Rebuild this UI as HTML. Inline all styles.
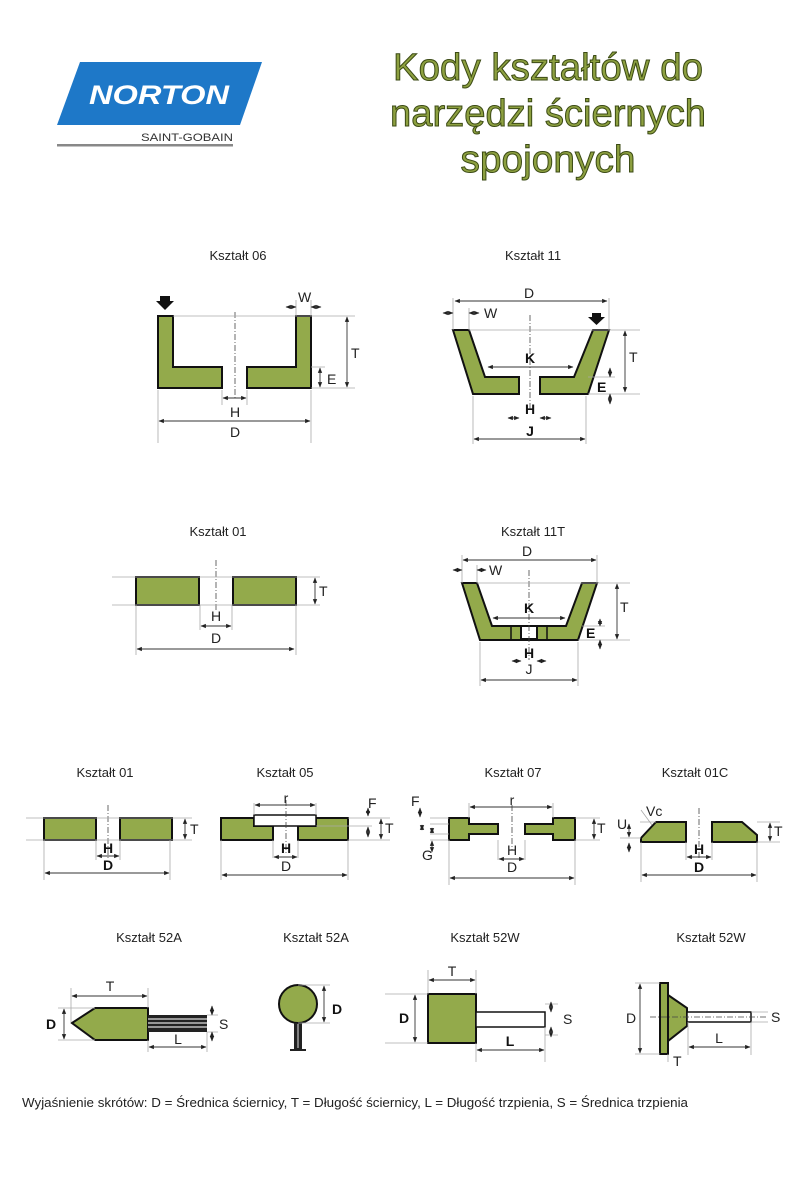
<!DOCTYPE html>
<html><head><meta charset="utf-8"><style>
body{margin:0;background:#fff}
svg{display:block}
text{font-family:"Liberation Sans",sans-serif}
.l{font-size:13px;fill:#222}
.g{fill:#93aa4b;stroke:#111;stroke-width:2}
.ln{stroke:#555;stroke-width:0.8;fill:none}
.ex{stroke:#aaa;stroke-width:0.8;fill:none}
.dm{stroke:#333;stroke-width:0.9;fill:none;marker-start:url(#a);marker-end:url(#a)}
.cl{stroke:#444;stroke-width:0.8;stroke-dasharray:6,2,1,2;fill:none}
.t{font-size:14px;fill:#222}
.tb{font-size:14px;fill:#111;font-weight:bold}
</style></head><body>
<svg width="800" height="1200" viewBox="0 0 800 1200" xmlns="http://www.w3.org/2000/svg">
<defs><marker id="a" viewBox="0 0 10 10" refX="9" refY="5" markerWidth="6" markerHeight="6" orient="auto-start-reverse"><path d="M0,1 L10,5 L0,9 z" fill="#222"/></marker></defs>
<!-- logo -->
<polygon points="80,62 262,62 240,125 57,125" fill="#1e78c8"/>
<text x="159" y="104" font-size="27" font-style="italic" font-weight="bold" fill="#fff" text-anchor="middle" textLength="140" lengthAdjust="spacingAndGlyphs">NORTON</text>
<text x="233" y="141" font-size="11" fill="#333" text-anchor="end" textLength="92" lengthAdjust="spacingAndGlyphs">SAINT-GOBAIN</text>
<rect x="57" y="144" width="176" height="2.5" fill="#888"/>
<!-- title -->
<g font-family="'DejaVu Sans Condensed','DejaVu Sans',sans-serif" font-size="38" fill="#8da040" stroke="#3b4a14" stroke-width="1" text-anchor="middle">
<text x="548" y="80" textLength="310" lengthAdjust="spacingAndGlyphs">Kody kształtów do</text>
<text x="548" y="126" textLength="316" lengthAdjust="spacingAndGlyphs">narzędzi ściernych</text>
<text x="548" y="172" textLength="175" lengthAdjust="spacingAndGlyphs">spojonych</text>
</g>

<!-- Ksztalt 06 -->
<text class="l" x="238" y="260" text-anchor="middle">Kształt 06</text>
<polygon class="g" points="158,316 173,316 173,367 222,367 222,388 158,388"/>
<polygon class="g" points="296,316 311,316 311,388 247,388 247,367 296,367"/>
<path d="M160,296 h10 v5 h4 l-9,9 l-9,-9 h4z" fill="#111"/>
<line class="cl" x1="235" y1="312" x2="235" y2="400"/>
<path class="ex" d="M173,316 H355 M311,388 H355 M311,367 H325 M158,390 V443 M311,390 V443 M222,390 V405 M247,390 V405 M296,300 V316 M311,300 V316"/>
<line class="dm" x1="347" y1="317" x2="347" y2="387"/>
<text class="t" x="351" y="358">T</text>
<line class="dm" x1="320" y1="368" x2="320" y2="387"/>
<text class="t" x="327" y="384">E</text>
<line class="dm" x1="286" y1="307" x2="296" y2="307"/><line class="dm" x1="321" y1="307" x2="311" y2="307"/>
<text class="t" x="298" y="302">W</text>
<line class="dm" x1="223" y1="398" x2="246" y2="398"/>
<text class="t" x="235" y="417" text-anchor="middle">H</text>
<line class="dm" x1="159" y1="421" x2="310" y2="421"/>
<text class="t" x="235" y="437" text-anchor="middle">D</text>

<!-- Ksztalt 11 -->
<text class="l" x="533" y="260" text-anchor="middle">Kształt 11</text>
<polygon class="g" points="453,330 469,330 485,377 519,377 519,394 473,394"/>
<polygon class="g" points="593,330 609,330 588,394 540,394 540,377 574,377"/>
<path d="M592,313 h9 v4 h4 l-8.5,8 l-8.5,-8 h4z" fill="#111"/>
<path class="cl" d="M530,315 V410"/>
<path class="ex" d="M453,298 V330 M609,298 V330 M469,308 V330 M469,330 H640 M588,394 H640 M588,377 H615 M473,396 V444 M586,396 V444"/>
<line class="dm" x1="455" y1="301" x2="607" y2="301"/>
<text class="t" x="529" y="298" text-anchor="middle">D</text>
<line class="dm" x1="443" y1="313" x2="453" y2="313"/><line class="dm" x1="479" y1="313" x2="469" y2="313"/>
<text class="t" x="484" y="318">W</text>
<line class="dm" x1="488" y1="367" x2="573" y2="367"/>
<text class="tb" x="530" y="363" text-anchor="middle">K</text>
<line class="dm" x1="625" y1="331" x2="625" y2="392"/>
<text class="t" x="629" y="362">T</text>
<line class="dm" x1="610" y1="368" x2="610" y2="377"/><line class="dm" x1="610" y1="404" x2="610" y2="394"/>
<text class="tb" x="597" y="392">E</text>
<line class="dm" x1="508" y1="418" x2="519" y2="418"/><line class="dm" x1="551" y1="418" x2="540" y2="418"/>
<text class="tb" x="530" y="414" text-anchor="middle">H</text>
<line class="dm" x1="474" y1="439" x2="585" y2="439"/>
<text class="tb" x="530" y="436" text-anchor="middle">J</text>

<!-- Ksztalt 01 mid -->
<text class="l" x="218" y="536" text-anchor="middle">Kształt 01</text>
<rect class="g" x="136" y="577" width="63" height="28"/>
<rect class="g" x="233" y="577" width="63" height="28"/>
<path class="cl" d="M216,560 V612"/>
<path class="ex" d="M112,577 H320 M112,605 H320 M136,605 V655 M296,605 V655 M200,605 V630 M232,605 V630"/>
<line class="dm" x1="315" y1="578" x2="315" y2="604"/>
<text class="t" x="319" y="596">T</text>
<line class="dm" x1="201" y1="626" x2="231" y2="626"/>
<text class="t" x="216" y="621" text-anchor="middle">H</text>
<line class="dm" x1="137" y1="649" x2="294" y2="649"/>
<text class="t" x="216" y="643" text-anchor="middle">D</text>

<!-- Ksztalt 11T -->
<text class="l" x="533" y="536" text-anchor="middle">Kształt 11T</text>
<polygon class="g" points="462,583 477,583 492,626 566,626 582,583 597,583 578,640 480,640"/>
<line x1="511" y1="626" x2="511" y2="640" stroke="#111" stroke-width="1.5"/>
<line x1="547" y1="626" x2="547" y2="640" stroke="#111" stroke-width="1.5"/>
<rect x="521" y="626" width="16" height="13" fill="#fff" stroke="#111" stroke-width="2"/>
<path class="cl" d="M529,570 V660"/>
<path class="ex" d="M462,555 V583 M597,555 V583 M477,565 V583 M477,583 H630 M578,640 H630 M582,626 H605 M480,642 V686 M578,642 V686"/>
<line class="dm" x1="463" y1="560" x2="596" y2="560"/>
<text class="t" x="527" y="556" text-anchor="middle">D</text>
<line class="dm" x1="453" y1="570" x2="462" y2="570"/><line class="dm" x1="486" y1="570" x2="477" y2="570"/>
<text class="t" x="489" y="575">W</text>
<line class="dm" x1="493" y1="618" x2="565" y2="618"/>
<text class="tb" x="529" y="613" text-anchor="middle">K</text>
<line class="dm" x1="617" y1="584" x2="617" y2="639"/>
<text class="t" x="620" y="612">T</text>
<line class="dm" x1="600" y1="619" x2="600" y2="626"/><line class="dm" x1="600" y1="649" x2="600" y2="640"/>
<text class="tb" x="586" y="638">E</text>
<line class="dm" x1="512" y1="661" x2="521" y2="661"/><line class="dm" x1="546" y1="661" x2="537" y2="661"/>
<text class="tb" x="529" y="658" text-anchor="middle">H</text>
<line class="dm" x1="481" y1="680" x2="577" y2="680"/>
<text class="t" x="529" y="674" text-anchor="middle">J</text>

<!-- Row 3 -->
<text class="l" x="105" y="777" text-anchor="middle">Kształt 01</text>
<text class="l" x="285" y="777" text-anchor="middle">Kształt 05</text>
<text class="l" x="513" y="777" text-anchor="middle">Kształt 07</text>
<text class="l" x="695" y="777" text-anchor="middle">Kształt 01C</text>

<!-- 01 small -->
<rect class="g" x="44" y="818" width="52" height="22"/>
<rect class="g" x="120" y="818" width="52" height="22"/>
<path class="cl" d="M108,805 V860"/>
<path class="ex" d="M26,818 H192 M26,840 H192 M44,840 V880 M170,840 V880 M96,840 V860 M120,840 V860"/>
<line class="dm" x1="185" y1="819" x2="185" y2="839"/><text class="t" x="190" y="834" font-size="11">T</text>
<line class="dm" x1="97" y1="856" x2="119" y2="856"/><text class="tb" x="108" y="853" text-anchor="middle" font-size="12">H</text>
<line class="dm" x1="45" y1="873" x2="169" y2="873"/><text class="tb" x="108" y="870" text-anchor="middle" font-size="12">D</text>

<!-- 05 -->
<polygon class="g" points="221,818 254,818 254,826 273,826 273,840 221,840"/>
<polygon class="g" points="316,818 348,818 348,840 298,840 298,826 316,826"/>
<rect x="254" y="815" width="62" height="11" fill="#fff" stroke="#111" stroke-width="1.5"/>
<path class="cl" d="M286,800 V855"/>
<path class="ex" d="M254,803 V815 M316,803 V815 M348,818 H390 M348,840 H390 M316,826 H372 M221,840 V880 M348,840 V880 M273,840 V858 M298,840 V858"/>
<line class="dm" x1="255" y1="805" x2="315" y2="805"/><text class="t" x="286" y="803" font-size="10" text-anchor="middle">r</text>
<line class="dm" x1="381" y1="819" x2="381" y2="839"/><text class="t" x="385" y="833" font-size="11">T</text>
<line class="dm" x1="368" y1="837" x2="368" y2="827"/><line class="dm" x1="368" y1="808" x2="368" y2="816"/><text class="t" x="368" y="808" font-size="10">F</text>
<line class="dm" x1="274" y1="857" x2="297" y2="857"/><text class="tb" x="286" y="853" text-anchor="middle" font-size="12">H</text>
<line class="dm" x1="222" y1="875" x2="347" y2="875"/><text class="t" x="286" y="871" text-anchor="middle" font-size="11">D</text>

<!-- 07 -->
<polygon class="g" points="449,818 469,818 469,824 498,824 498,834 469,834 469,840 449,840"/>
<polygon class="g" points="553,818 575,818 575,840 553,840 553,834 525,834 525,824 553,824"/>
<path class="cl" d="M512,805 V850"/>
<path class="ex" d="M469,803 V818 M553,803 V818 M430,818 H449 M430,824 H449 M430,834 H449 M430,840 H449 M575,818 H600 M575,840 H600 M449,840 V885 M575,840 V885 M498,840 V860 M525,840 V860"/>
<line class="dm" x1="470" y1="807" x2="552" y2="807"/><text class="t" x="512" y="805" font-size="10" text-anchor="middle">r</text>
<line class="dm" x1="594" y1="819" x2="594" y2="839"/><text class="t" x="597" y="833" font-size="11">T</text>
<text class="t" x="411" y="806" font-size="10">F</text><line class="dm" x1="420" y1="808" x2="420" y2="817"/>
<line class="dm" x1="422" y1="830" x2="422" y2="825"/><line class="dm" x1="432" y1="828" x2="432" y2="833"/>
<line class="dm" x1="432" y1="852" x2="432" y2="841"/><text class="t" x="422" y="860" font-size="11">G</text>
<line class="dm" x1="499" y1="859" x2="524" y2="859"/><text class="t" x="512" y="855" text-anchor="middle" font-size="11">H</text>
<line class="dm" x1="450" y1="878" x2="574" y2="878"/><text class="t" x="512" y="872" text-anchor="middle" font-size="11">D</text>

<!-- 01C -->
<polygon class="g" points="641,842 641,838 656,822 686,822 686,842"/>
<polygon class="g" points="712,822 742,822 757,835 757,842 712,842"/>
<path class="cl" d="M699,808 V858"/>
<path class="ex" d="M620,838 H641 M640,822 H656 M757,822 H780 M757,842 H780 M641,842 V882 M757,842 V882 M686,842 V860 M712,842 V860"/>
<line class="dm" x1="770" y1="823" x2="770" y2="841"/><text class="t" x="774" y="836" font-size="11">T</text>
<text class="t" x="617" y="829" font-size="11">U</text><line class="dm" x1="629" y1="824" x2="629" y2="837"/><line class="dm" x1="629" y1="852" x2="629" y2="843"/>
<text class="t" x="646" y="816" font-size="8">Vc</text><line class="ex" x1="641" y1="810" x2="652" y2="825"/>
<line class="dm" x1="687" y1="857" x2="711" y2="857"/><text class="tb" x="699" y="854" text-anchor="middle" font-size="12">H</text>
<line class="dm" x1="642" y1="875" x2="756" y2="875"/><text class="tb" x="699" y="872" text-anchor="middle" font-size="12">D</text>

<!-- Row 4 -->
<text class="l" x="149" y="942" text-anchor="middle">Kształt 52A</text>
<text class="l" x="316" y="942" text-anchor="middle">Kształt 52A</text>
<text class="l" x="485" y="942" text-anchor="middle">Kształt 52W</text>
<text class="l" x="711" y="942" text-anchor="middle">Kształt 52W</text>

<!-- 52A cone -->
<polygon class="g" points="72,1023 95,1008 148,1008 148,1040 95,1040"/>
<rect x="148" y="1015" width="59" height="17" fill="#222"/>
<path d="M148,1019 H207 M148,1023 H207 M148,1027 H207" stroke="#ddd" stroke-width="1.2"/>
<path class="ex" d="M71,988 V1022 M148,988 V1008 M58,1008 H95 M58,1040 H95 M148,1040 V1052 M207,1032 V1052 M207,1015 H218 M207,1032 H218"/>
<line class="dm" x1="72" y1="996" x2="147" y2="996"/><text class="t" x="110" y="991" text-anchor="middle" font-size="13">T</text>
<line class="dm" x1="64" y1="1009" x2="64" y2="1039"/><text class="tb" x="46" y="1029" font-size="13">D</text>
<line class="dm" x1="212" y1="1006" x2="212" y2="1015"/><line class="dm" x1="212" y1="1041" x2="212" y2="1032"/><text class="t" x="219" y="1029" font-size="13">S</text>
<line class="dm" x1="149" y1="1047" x2="206" y2="1047"/><text class="t" x="178" y="1044" text-anchor="middle" font-size="13">L</text>

<!-- 52A ball -->
<ellipse class="g" cx="298" cy="1004" rx="19" ry="19"/>
<rect x="294" y="1023" width="8" height="26" fill="#222"/>
<line x1="298" y1="1024" x2="298" y2="1048" stroke="#ddd" stroke-width="1"/>
<path d="M290,1050 H306" stroke="#222" stroke-width="2"/>
<path class="ex" d="M298,985 H330 M298,1023 H330"/>
<line class="dm" x1="324" y1="986" x2="324" y2="1022"/><text class="tb" x="332" y="1014" font-size="13">D</text>

<!-- 52W cylinder -->
<rect class="g" x="428" y="994" width="48" height="49"/>
<rect x="476" y="1012" width="69" height="15" fill="#fff" stroke="#111" stroke-width="1.5"/>
<path class="ex" d="M428,970 V994 M476,970 V994 M385,994 H428 M385,1043 H428 M476,1043 V1062 M545,1027 V1062 M545,1004 H558 M545,1035 H558"/>
<line class="dm" x1="429" y1="980" x2="475" y2="980"/><text class="t" x="452" y="976" text-anchor="middle" font-size="13">T</text>
<line class="dm" x1="415" y1="995" x2="415" y2="1042"/><text class="tb" x="399" y="1023" font-size="13">D</text>
<line class="dm" x1="551" y1="1002" x2="551" y2="1012"/><line class="dm" x1="551" y1="1037" x2="551" y2="1027"/><text class="t" x="563" y="1024" font-size="13">S</text>
<line class="dm" x1="477" y1="1050" x2="544" y2="1050"/><text class="tb" x="510" y="1046" text-anchor="middle" font-size="13">L</text>

<!-- 52W disc -->
<rect class="g" x="660" y="983" width="8" height="71"/>
<polygon class="g" points="668,995 687,1008 687,1026 668,1041"/>
<rect x="687" y="1012" width="64" height="10" fill="#fff" stroke="#111" stroke-width="1.5"/>
<path class="cl" d="M650,1017 H768"/>
<path class="ex" d="M635,983 H660 M635,1054 H660 M688,1022 V1055 M751,1022 V1055 M751,1012 H768 M751,1022 H768 M668,1054 V1062"/>
<line class="dm" x1="640" y1="984" x2="640" y2="1053"/><text class="t" x="626" y="1023" font-size="13">D</text>
<line class="dm" x1="689" y1="1047" x2="750" y2="1047"/><text class="t" x="719" y="1043" text-anchor="middle" font-size="13">L</text>
<text class="t" x="771" y="1022" font-size="13">S</text>
<text class="t" x="673" y="1066" font-size="12">T</text>

<text class="l" x="22" y="1107" font-size="13" textLength="666" lengthAdjust="spacingAndGlyphs">Wyjaśnienie skrótów: D = Średnica ściernicy, T = Długość ściernicy, L = Długość trzpienia, S = Średnica trzpienia</text>
</svg>
</body></html>
